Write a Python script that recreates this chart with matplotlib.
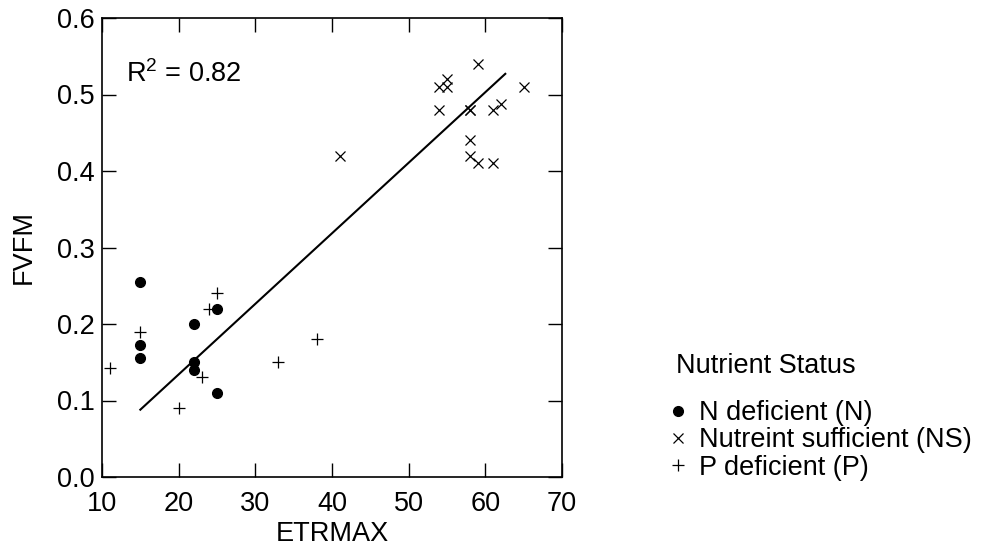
import matplotlib
matplotlib.use("Agg")
import matplotlib.pyplot as plt
from matplotlib.lines import Line2D

plt.rcParams['font.family'] = ['Liberation Sans', 'DejaVu Sans']
plt.rcParams['mathtext.fontset'] = 'custom'
plt.rcParams['mathtext.rm'] = 'Liberation Sans'
plt.rcParams['mathtext.default'] = 'regular'

# N deficient (circles)
n_x = [15, 15, 15, 22, 22, 22, 25, 25]
n_y = [0.255, 0.172, 0.155, 0.200, 0.150, 0.140, 0.220, 0.110]

# Nutrient sufficient (crosses)
ns_x = [41, 54, 54, 55, 55, 58, 58, 58, 58, 59, 59, 61, 61, 62, 65]
ns_y = [0.42, 0.51, 0.48, 0.52, 0.51, 0.48, 0.44, 0.42, 0.48, 0.54, 0.41, 0.48, 0.41, 0.488, 0.51]

# P deficient (plus)
p_x = [11, 15, 20, 23, 24, 25, 33, 38]
p_y = [0.143, 0.190, 0.090, 0.131, 0.220, 0.240, 0.150, 0.180]

# regression line as drawn in the figure
fit_x = [15, 62.6]
fit_y = [0.088, 0.527]

x_ticks = [10, 20, 30, 40, 50, 60, 70]
y_ticks = [0.0, 0.1, 0.2, 0.3, 0.4, 0.5, 0.6]

FS = 19.5

fig = plt.figure(figsize=(9.87, 5.48), dpi=100)
ax = fig.add_axes([102 / 987, 1 - 477 / 548, 460 / 987, 459 / 548])

ax.plot(n_x, n_y, 'o', color='black', markersize=7, linestyle='none')
ax.plot(ns_x, ns_y, 'x', color='black', markersize=6.5, markeredgewidth=0.9, linestyle='none')
ax.plot(p_x, p_y, '+', color='black', markersize=9, markeredgewidth=0.9, linestyle='none')
ax.plot(fit_x, fit_y, color='black', linewidth=1.5)

ax.set_xlim(10, 70)
ax.set_ylim(0.0, 0.6)
ax.set_xticks(x_ticks)
ax.set_yticks(y_ticks)
ax.set_yticklabels([f'{v:.1f}' for v in y_ticks])
ax.tick_params(direction='in', length=10, width=1, top=True, right=True,
               labelsize=FS)
ax.tick_params(axis='x', pad=10)
ax.tick_params(axis='y', pad=5)
for s in ax.spines.values():
    s.set_linewidth(1.2)

ax.set_xlabel('ETRMAX', fontsize=FS, labelpad=3)
ax.set_ylabel('FVFM', fontsize=FS, labelpad=15)

ax.text((126 - 102) / 460, (477 - 74) / 459, 'R$^2$ = 0.82', transform=ax.transAxes,
        fontsize=FS, ha='left', va='center')

# legend
fig.text(676 / 987, 1 - 366 / 548, 'Nutrient Status', fontsize=FS,
         ha='left', va='center')
handles = [
    Line2D([], [], marker='o', color='black', linestyle='none', markersize=7),
    Line2D([], [], marker='x', color='black', linestyle='none', markersize=6.5, markeredgewidth=0.9),
    Line2D([], [], marker='+', color='black', linestyle='none', markersize=9, markeredgewidth=0.9),
]
labels = ['N deficient (N)', 'Nutreint sufficient (NS)', 'P deficient (P)']
fig.legend(handles, labels, loc='upper left', bbox_to_anchor=(664 / 987, 1 - 400 / 548),
           frameon=False, fontsize=FS, handlelength=1.0, handletextpad=0.3,
           labelspacing=0.05, borderpad=0, borderaxespad=0)

fig.savefig('out.png', dpi=100)
